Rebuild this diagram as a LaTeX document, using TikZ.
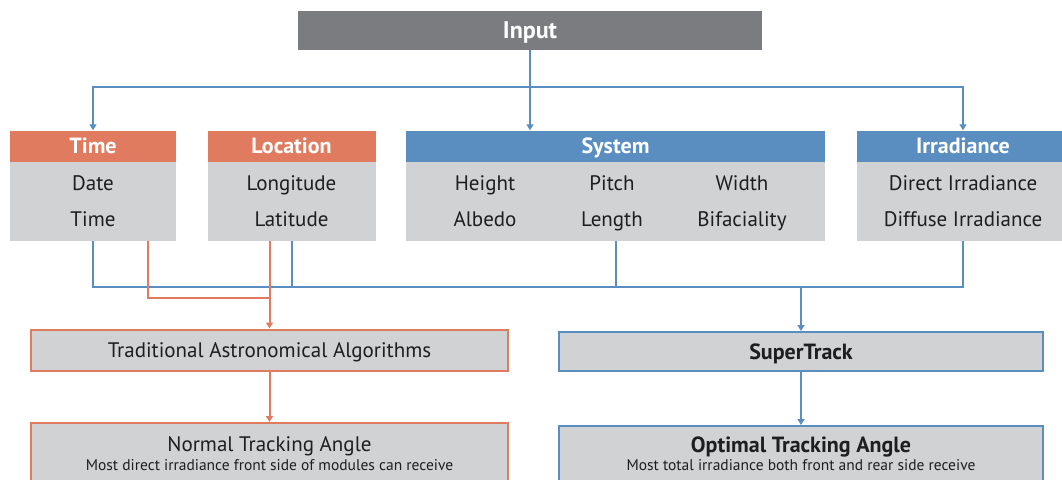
\documentclass[tikz,border=0pt]{standalone}
\usepackage{fontspec}
\setmainfont{PT Sans}
\usetikzlibrary{arrows.meta}
\definecolor{org}{HTML}{E07B5F}
\definecolor{blu}{HTML}{5A8DC0}
\definecolor{gfill}{HTML}{D1D2D4}
\definecolor{gin}{HTML}{7B7C80}
\definecolor{txt}{HTML}{1E1E1E}
\tikzset{
  hdr/.style={rectangle, inner sep=0pt},
  hdrO/.style={hdr, fill=org},
  hdrB/.style={hdr, fill=blu},
  hlabel/.style={inner sep=0pt, text=white, text height=15.4pt, text depth=0pt, font=\fontsize{22}{24}\selectfont\bfseries},
  bodybox/.style={rectangle, inner sep=0pt, fill=gfill},
  item/.style={inner sep=0pt, text=txt, text height=14.7pt, text depth=0pt, font=\fontsize{21}{23}\selectfont},
  bolditem/.style={inner sep=0pt, text=txt, text height=15.4pt, text depth=0pt, font=\fontsize{22}{24}\selectfont\bfseries},
  lowbox/.style={rectangle, inner sep=0pt, fill=gfill, line width=2pt},
  sub/.style={inner sep=0pt, text=txt, text height=10.9pt, text depth=0pt, font=\fontsize{15.5}{17}\selectfont},
  bl/.style={draw=blu, line width=2pt},
  ol/.style={draw=org, line width=2pt},
  arr/.style={-{Triangle[width=7pt,length=6pt]}},
}
\begin{document}
\begin{tikzpicture}[x=1pt,y=-1pt]
\useasboundingbox (0,0) rectangle (1062,479);
\clip (0,0) rectangle (1062,479);
\fill[white] (0,0) rectangle (1062,479);
% Input
\node[rectangle, fill=gin, minimum width=464, minimum height=39] (input) at (530,30.5) {};
\node[hlabel, text height=16.8pt, font=\fontsize{24}{26}\selectfont\bfseries] at (input.center) {Input};
% Time
\node[hdrO, minimum width=166, minimum height=31] (timeH) at (93,146) {};
\node[hlabel] at (timeH.center) {Time};
\node[bodybox, minimum width=166, minimum height=79, anchor=north] (timeB) at (timeH.south) {};
\node[item] (t1) at (93,183) {Date};
\node[item] (t2) at (93,219) {Time};
% Location
\node[hdrO, minimum width=168, minimum height=31] (locH) at (291.5,146) {};
\node[hlabel] at (locH.center) {Location};
\node[bodybox, minimum width=168, minimum height=79, anchor=north] (locB) at (locH.south) {};
\node[item] (l1) at (291.5,183) {Longitude};
\node[item] (l2) at (291.5,219) {Latitude};
% System
\node[hdrB, minimum width=419, minimum height=31] (sysH) at (615.5,146) {};
\node[hlabel] at (sysH.center) {System};
\node[bodybox, minimum width=419, minimum height=79, anchor=north] (sysB) at (sysH.south) {};
\node[item] (s1) at (485,183) {Height};
\node[item] (s2) at (612,183) {Pitch};
\node[item] (s3) at (742,183) {Width};
\node[item] (s4) at (485,219) {Albedo};
\node[item] (s5) at (612,219) {Length};
\node[item] (s6) at (742,219) {Bifaciality};
% Irradiance
\node[hdrB, minimum width=212, minimum height=31] (irrH) at (963,146) {};
\node[hlabel] at (irrH.center) {Irradiance};
\node[bodybox, minimum width=212, minimum height=79, anchor=north] (irrB) at (irrH.south) {};
\node[item] (i1) at (963,183) {Direct Irradiance};
\node[item] (i2) at (963,219) {Diffuse Irradiance};
% lower boxes
\node[lowbox, draw=org, minimum width=477, minimum height=41] (trad) at (269.5,350) {};
\node[item] at (trad.center) {Traditional Astronomical Algorithms};
\node[lowbox, draw=blu, minimum width=484, minimum height=39] (st) at (801,351.5) {};
\node[bolditem] at (st.center) {SuperTrack};
\node[lowbox, draw=org, minimum width=477, minimum height=80, anchor=north] (norm) at (269.5,422) {};
\node[item] (n1) at (269.5,444) {Normal Tracking Angle};
\node[sub] (n2) at (269.5,465) {Most direct irradiance front side of modules can receive};
\node[lowbox, draw=blu, minimum width=484, minimum height=80, anchor=north] (opt) at (801,425) {};
\node[bolditem] (o1) at (801,445) {Optimal Tracking Angle};
\node[sub] (o2) at (801,465) {Most total irradiance both front and rear side receive};
% top connectors
\coordinate (busTop) at (530,87);
\draw[bl] (input.south) -- (busTop);
\draw[bl,arr] (busTop) -| (timeH.north);
\draw[bl,arr] (busTop) -| (irrH.north);
\draw[bl,arr] (busTop) -- (busTop |- sysH.north);
% lower connectors
\coordinate (busY) at (0,286.5);
\coordinate (orJ) at (0,297.5);
\draw[bl] (timeB.south) |- (busY -| irrB.south) -- (irrB.south);
\draw[bl] (locB.south) -- (locB.south |- busY);
\draw[bl] (sysB.south) -- (sysB.south |- busY);
\draw[bl,arr] (busY -| st.north) -- (st.north);
\draw[ol] ([xshift=54.5]timeB.south) |- (orJ -| trad.north);
\draw[ol,arr] (locB.south -| trad.north) -- (trad.north);
\draw[ol,arr] (trad.south) -- (norm.north);
\draw[bl,arr] (st.south) -- (opt.north);
\end{tikzpicture}
\end{document}
